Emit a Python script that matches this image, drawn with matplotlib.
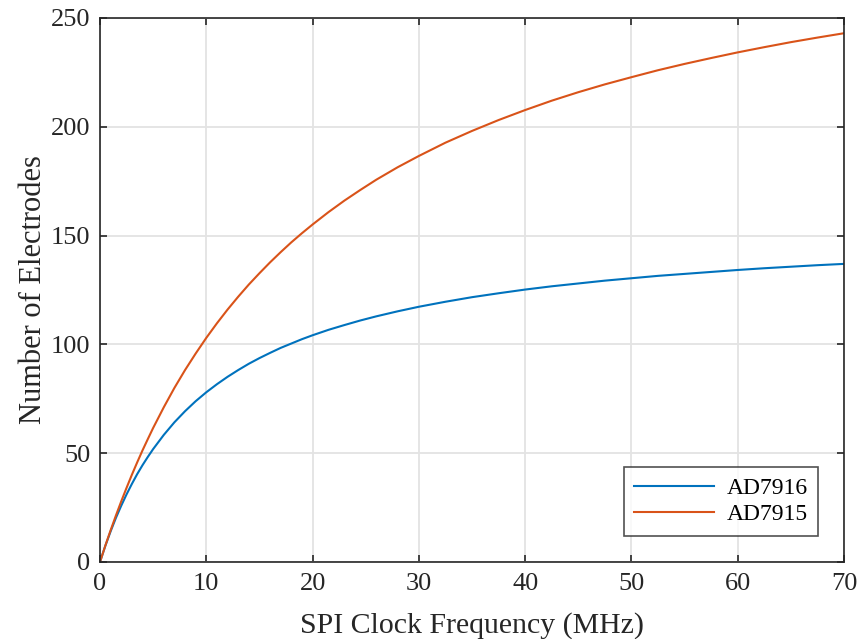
import matplotlib
matplotlib.use("Agg")
import matplotlib.pyplot as plt

freq = [0, 0.5, 1, 1.5, 2, 2.5, 3, 3.5, 4, 4.5, 5, 6, 7, 8, 9, 10, 11, 12, 13, 14,
        15, 16, 17, 18, 19, 20, 21.5, 23, 24.5, 26, 28, 30, 32.5, 35, 37.5, 40,
        42.5, 45, 47.5, 50, 52.5, 55, 57.5, 60, 62.5, 65, 67.5, 70]
ad7916 = [0, 7.4, 14.1, 20.3, 25.9, 31.1, 35.9, 40.4, 44.5, 48.3, 51.9, 58.4, 64.2,
          69.3, 73.9, 78.0, 81.7, 85.1, 88.2, 91.1, 93.7, 96.1, 98.4, 100.4, 102.4,
          104.2, 106.7, 108.9, 111.0, 112.9, 115.2, 117.3, 119.6, 121.7, 123.5,
          125.2, 126.7, 128.0, 129.3, 130.4, 131.5, 132.4, 133.3, 134.2, 135.0,
          135.7, 136.4, 137.0]
ad7915 = [0, 7.5, 14.6, 21.4, 27.9, 34.1, 40.1, 45.8, 51.3, 56.5, 61.6, 71.1, 80.0,
          88.2, 95.8, 103.0, 109.7, 116.0, 121.9, 127.5, 132.7, 137.7, 142.4, 146.9,
          151.1, 155.1, 160.8, 166.1, 171.0, 175.7, 181.4, 186.6, 192.7, 198.1,
          203.1, 207.7, 212.0, 215.9, 219.5, 222.8, 226.0, 228.9, 231.6, 234.2,
          236.6, 238.9, 241.0, 243.0]
xticks = [0, 10, 20, 30, 40, 50, 60, 70]
yticks = [0, 50, 100, 150, 200, 250]

plt.rcParams['font.family'] = ['Liberation Serif', 'DejaVu Serif']
plt.rcParams['mathtext.fontset'] = 'stix'

fig = plt.figure(figsize=(8.59, 6.39), dpi=100)
ax = fig.add_axes([100/859, 1-562/639, 744/859, 544/639])

ax.plot(freq, ad7916, color='#0072BD', lw=1.5, label='AD7916',
        solid_joinstyle='round')
ax.plot(freq, ad7915, color='#D95319', lw=1.5, label='AD7915',
        solid_joinstyle='round')

ax.set_xlim(0, 70)
ax.set_ylim(0, 250)
ax.set_xticks(xticks)
ax.set_yticks(yticks)
ax.grid(True, color='#E3E3E3', lw=1.3)
ax.set_axisbelow(True)

axcol = '#262626'
for s in ax.spines.values():
    s.set_color(axcol)
    s.set_linewidth(1.2)
ax.tick_params(direction='in', length=5, width=1.2, colors=axcol, labelsize=19,
               top=True, right=True)
ax.tick_params(axis='x', pad=8)
ax.tick_params(axis='y', pad=7)
ax.set_xlabel('SPI Clock Frequency (MHz)', fontsize=21.5, color=axcol, labelpad=12)
ax.set_ylabel('Number of Electrodes', fontsize=22, color=axcol, labelpad=2)

leg = ax.legend(loc='lower right', fontsize=17, frameon=True, fancybox=False,
                edgecolor=axcol, handlelength=3.4, borderaxespad=1.1,
                borderpad=0.45, labelspacing=0.2, handletextpad=0.5)
leg.get_frame().set_linewidth(1.2)

fig.savefig('out.png', dpi=100, facecolor='white')
